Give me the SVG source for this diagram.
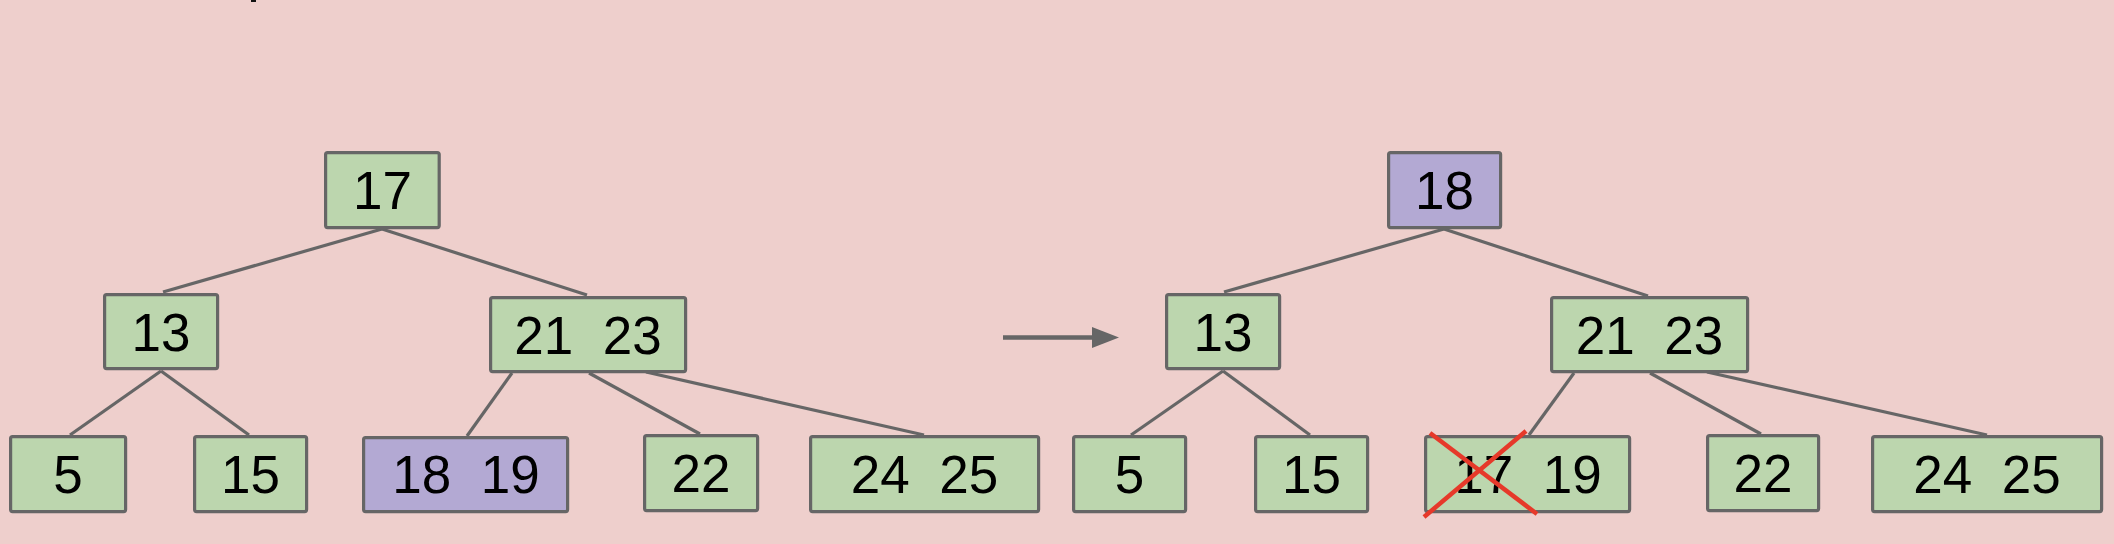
<svg xmlns="http://www.w3.org/2000/svg" width="2114" height="544" viewBox="0 0 2114 544">
<style>
.g{fill:#bcd6ae;stroke:#666;stroke-width:3.2}
.p{fill:#b3a9d3;stroke:#666;stroke-width:3.2}
.t{font-family:"Liberation Sans",Arial,sans-serif;font-size:53px;fill:#000;text-anchor:middle}
.e{stroke:#666;stroke-width:3.2;fill:none}
.x{stroke:#e6392a;stroke-width:4.5}
</style>
<rect width="2114" height="544" fill="#eecfcc"/>
<rect x="251" y="0" width="5" height="2" fill="#111"/>
<g id="connectors">
<line class="e" x1="382" y1="229" x2="163" y2="292"/>
<line class="e" x1="382" y1="229" x2="587" y2="295"/>
<line class="e" x1="161" y1="371" x2="70" y2="435"/>
<line class="e" x1="161" y1="371" x2="249" y2="435"/>
<line class="e" x1="512" y1="373" x2="467" y2="436"/>
<line class="e" x1="589" y1="373" x2="700" y2="434"/>
<line class="e" x1="646" y1="372" x2="924" y2="435" stroke-width="3.8"/>
<line class="e" x1="1444" y1="229" x2="1224" y2="292"/>
<line class="e" x1="1444" y1="229" x2="1648" y2="296"/>
<line class="e" x1="1223" y1="371" x2="1131" y2="435"/>
<line class="e" x1="1223" y1="371" x2="1310" y2="435"/>
<line class="e" x1="1574" y1="373" x2="1529" y2="435"/>
<line class="e" x1="1650" y1="373" x2="1761" y2="434"/>
<line class="e" x1="1707" y1="372" x2="1987" y2="435" stroke-width="3.8"/>
<line x1="1003" y1="337.5" x2="1093" y2="337.5" stroke="#666" stroke-width="4.3"/>
<polygon points="1092,327 1119,337.5 1092,348" fill="#666"/>
</g>
<g id="L17"><rect class="g" x="325.6" y="152.6" width="113.6" height="75" rx="2"/><text class="t" x="382.5" y="209">17</text></g>
<g id="L13"><rect class="g" x="104.6" y="294.6" width="113" height="74" rx="2"/><text class="t" x="161" y="351">13</text></g>
<g id="L2123"><rect class="g" x="490.6" y="297.6" width="195" height="74" rx="2"/><text class="t" x="588" y="353.5" xml:space="preserve">21  23</text></g>
<g id="L5"><rect class="g" x="10.6" y="436.6" width="115" height="75" rx="2"/><text class="t" x="68" y="493">5</text></g>
<g id="L15"><rect class="g" x="194.6" y="436.6" width="112" height="75" rx="2"/><text class="t" x="250.5" y="493">15</text></g>
<g id="L1819"><rect class="p" x="363.6" y="437.6" width="204" height="74" rx="2"/><text class="t" x="466" y="493" xml:space="preserve">18  19</text></g>
<g id="L22"><rect class="g" x="644.6" y="435.6" width="113" height="75" rx="2"/><text class="t" x="701" y="492">22</text></g>
<g id="L2425"><rect class="g" x="810.6" y="436.6" width="228" height="75" rx="2"/><text class="t" x="924.5" y="493" xml:space="preserve">24  25</text></g>
<g id="R18"><rect class="p" x="1388.6" y="152.6" width="112" height="75" rx="2"/><text class="t" x="1444.5" y="209">18</text></g>
<g id="R13"><rect class="g" x="1166.6" y="294.6" width="113" height="74" rx="2"/><text class="t" x="1223" y="351">13</text></g>
<g id="R2123"><rect class="g" x="1551.6" y="297.6" width="196" height="74" rx="2"/><text class="t" x="1649.5" y="353.5" xml:space="preserve">21  23</text></g>
<g id="R5"><rect class="g" x="1073.6" y="436.6" width="112" height="75" rx="2"/><text class="t" x="1129.5" y="493">5</text></g>
<g id="R15"><rect class="g" x="1255.6" y="436.6" width="112" height="75" rx="2"/><text class="t" x="1311.5" y="493">15</text></g>
<g id="R1719"><rect class="g" x="1425.6" y="436.6" width="204" height="75" rx="2"/><text class="t" x="1528" y="493" xml:space="preserve">17  19</text>
<line class="x" x1="1430" y1="433" x2="1537" y2="514"/><line class="x" x1="1424" y1="517" x2="1526" y2="431"/></g>
<g id="R22"><rect class="g" x="1707.6" y="435.6" width="111" height="75" rx="2"/><text class="t" x="1763" y="492">22</text></g>
<g id="R2425"><rect class="g" x="1872.6" y="436.6" width="229" height="75" rx="2"/><text class="t" x="1987" y="493" xml:space="preserve">24  25</text></g>
</svg>
